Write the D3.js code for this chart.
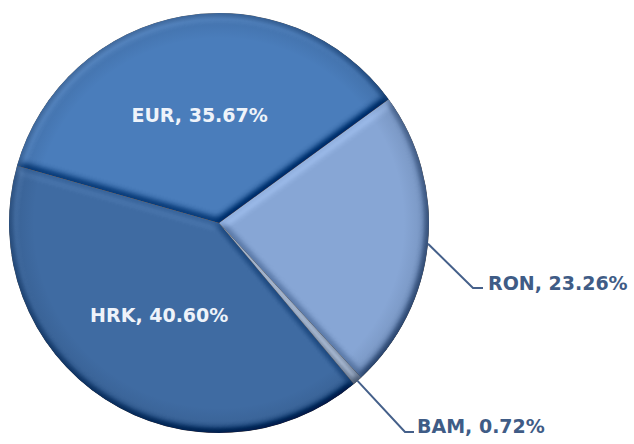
<!DOCTYPE html>
<html>
<head>
<meta charset="utf-8">
<script src="https://cdn.jsdelivr.net/npm/d3@7/dist/d3.min.js"></script>
<style>
  html, body { margin: 0; padding: 0; background: #ffffff; }
  svg { display: block; }
</style>
</head>
<body>
<svg id="chart" width="634" height="444"></svg>
<script>
// ---- data ----
const categories = ["RON", "BAM", "HRK", "EUR"];
const shares = [23.26, 0.72, 40.60, 35.67];
const labelTexts = ["RON, 23.26%", "BAM, 0.72%", "HRK, 40.60%", "EUR, 35.67%"];

// ---- style / layout ----
const colors = { RON: "#87a6d5", BAM: "#9fb0c9", HRK: "#3f6ba2", EUR: "#4a7dbb" };
const cx = 219, cy = 223, R = 210;
const startDeg = 53.9;
const insideLabels = { HRK: true, EUR: true };
const outsideLayout = {
  RON: { elbow: [473, 288], end: [483, 288], text: [488, 290] },
  BAM: { elbow: [405, 432], end: [414, 432], text: [417, 433] }
};

const svg = d3.select("#chart");
const defs = svg.append("defs");

// bevel filter: diffuse lighting added around a neutral level
const f = defs.append("filter").attr("id", "bevel")
  .attr("x", "-5%").attr("y", "-5%").attr("width", "110%").attr("height", "110%")
  .attr("color-interpolation-filters", "sRGB");
f.append("feGaussianBlur").attr("in", "SourceAlpha").attr("stdDeviation", 4).attr("result", "blur");
const dl = f.append("feDiffuseLighting").attr("in", "blur").attr("surfaceScale", 6)
  .attr("diffuseConstant", 0.577).attr("lighting-color", "#ffffff").attr("result", "diff");
dl.append("feDistantLight").attr("azimuth", 235).attr("elevation", 60);
f.append("feComposite").attr("in", "SourceGraphic").attr("in2", "diff")
  .attr("operator", "arithmetic").attr("k1", 0).attr("k2", 1).attr("k3", 0.85).attr("k4", -0.425)
  .attr("result", "lit");
f.append("feComposite").attr("in", "lit").attr("in2", "SourceAlpha").attr("operator", "in");

// rim darkening
const rg = defs.append("radialGradient").attr("id", "rim")
  .attr("gradientUnits", "userSpaceOnUse").attr("cx", 0).attr("cy", 0).attr("r", R);
rg.append("stop").attr("offset", "0.88").attr("stop-color", "#0a1a33").attr("stop-opacity", 0);
rg.append("stop").attr("offset", "0.97").attr("stop-color", "#0a1a33").attr("stop-opacity", 0.1);
rg.append("stop").attr("offset", "1").attr("stop-color", "#0a1a33").attr("stop-opacity", 0.28);

const data = categories.map((c, i) => ({ cat: c, value: shares[i], label: labelTexts[i] }));

const pie = d3.pie().sort(null).value(d => d.value)
  .startAngle(startDeg * Math.PI / 180)
  .endAngle(startDeg * Math.PI / 180 + 2 * Math.PI);
const arcs = pie(data);

const arc = d3.arc().innerRadius(0).outerRadius(R);
const labelArc = d3.arc().innerRadius(110).outerRadius(110);
const rimArc = d3.arc().innerRadius(R).outerRadius(R);

const g = svg.append("g").attr("transform", `translate(${cx},${cy})`);

g.selectAll("path.slice").data(arcs).join("path")
  .attr("class", "slice")
  .attr("d", arc)
  .attr("fill", d => colors[d.data.cat])
  .attr("filter", "url(#bevel)");

g.selectAll("path.rim").data(arcs).join("path")
  .attr("class", "rim")
  .attr("d", arc)
  .attr("fill", "url(#rim)");

// inside labels
svg.append("g").selectAll("text").data(arcs.filter(d => insideLabels[d.data.cat])).join("text")
  .attr("transform", d => { const p = labelArc.centroid(d); return `translate(${cx + p[0]},${cy + p[1]})`; })
  .attr("text-anchor", "middle")
  .attr("dominant-baseline", "central")
  .attr("font-family", "DejaVu Sans, Verdana, sans-serif")
  .attr("font-weight", "bold")
  .attr("font-size", 19)
  .attr("fill", "#eef3fa")
  .text(d => d.data.label);

// outside labels with leader lines
const outs = arcs.filter(d => outsideLayout[d.data.cat]);
const lg = svg.append("g");
lg.selectAll("path").data(outs).join("path")
  .attr("d", d => {
    const p = rimArc.centroid(d);
    const L = outsideLayout[d.data.cat];
    return d3.line()([[cx + p[0], cy + p[1]], L.elbow, L.end]);
  })
  .attr("fill", "none")
  .attr("stroke", "#45608a")
  .attr("stroke-width", 2);
lg.selectAll("text").data(outs).join("text")
  .attr("x", d => outsideLayout[d.data.cat].text[0])
  .attr("y", d => outsideLayout[d.data.cat].text[1])
  .attr("font-family", "DejaVu Sans, Verdana, sans-serif")
  .attr("font-weight", "bold")
  .attr("font-size", 19)
  .attr("fill", "#3f5c86")
  .text(d => d.data.label);
</script>
</body>
</html>
